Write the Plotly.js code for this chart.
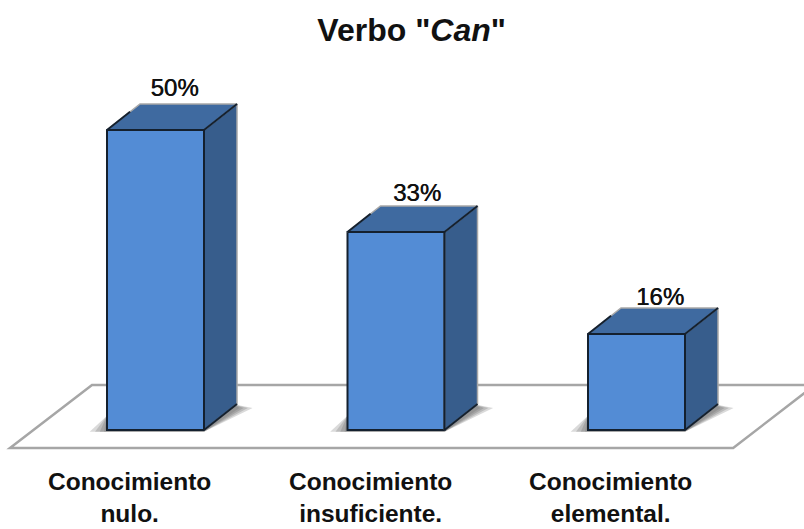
<!DOCTYPE html>
<html>
<head>
<meta charset="utf-8">
<script src="https://cdn.plot.ly/plotly-3.0.1.min.js"></script>
<style>html,body{margin:0;padding:0;background:#fff}</style>
</head>
<body>
<div id="chart" style="width:804px;height:529px"></div>
<script>
const categories = ['Conocimiento<br>nulo.', 'Conocimiento<br>insuficiente.', 'Conocimiento<br>elemental.'];
const values = [50, 33, 16];
const positions = [0, 1, 2];
const pxPerX = 240.5, pxPerY = 6;
const halfW = 48.5 / pxPerX;
const depthX = 33 / pxPerX, depthY = 26 / pxPerY;
const labelShiftPx = [19, 21, 23.5];
const labelRisePx = [18, 15, 13];
const FONT = '"Liberation Sans", Arial, sans-serif';

const sideX = [], sideY = [], topX = [], topY = [], edgeX = [], edgeY = [];
positions.forEach((p, i) => {
  const l = p - halfW, r = p + halfW, v = values[i];
  sideX.push(r, r + depthX, r + depthX, r, r, null);
  sideY.push(0, depthY, v + depthY, v, 0, null);
  topX.push(l, l + depthX, r + depthX, r, l, null);
  topY.push(v, v + depthY, v + depthY, v, v, null);
  edgeX.push(l, r, r, null, r, r + depthX, null, l, l + depthX * 0.7, null, r, r + depthX, null);
  edgeY.push(v, v, 0, null, v, v + depthY, null, v, v + depthY * 0.7, null, 0, depthY, null);
});

const shapes = [];
shapes.push({type: 'path', layer: 'below', xref: 'x', yref: 'y', path: 'M -0.605 -3 L -0.264 7.5 L 2.742 7.5 L 2.402 -3 Z',
  fillcolor: '#ffffff', line: {color: '#a6a6a6', width: 2.5}});
positions.forEach((p) => {
  const l = p - halfW, r = p + halfW;
  [[0.072, 0.2], [0.05, 0.2], [0.03, 0.2], [0.012, 0.16]].forEach(([grow, op]) => {
    shapes.push({type: 'path', layer: 'below', xref: 'x', yref: 'y',
      path: `M ${l - grow} -0.3 L ${r} -0.3 L ${r + depthX + grow * 0.9} ${depthY * 0.85} L ${r + depthX - 0.02} ${depthY} L ${l} ${depthY * 0.55} Z`,
      fillcolor: '#444444', opacity: op, line: {width: 0}});
  });
});

const annotations = positions.map((p, i) => ({
  xref: 'x', yref: 'paper', x: p - 26 / pxPerX, y: (470 - 497) / 470,
  text: '<b>' + categories[i].replace('<br>', '</b><br><b>') + '</b>',
  showarrow: false, xanchor: 'center', yanchor: 'middle',
  font: {family: FONT, size: 24.5, color: '#111111'}
}));

const data = [
  {type: 'bar', x: positions, y: values, width: halfW * 2, marker: {color: '#538cd5', line: {color: '#14202e', width: 2}}, hoverinfo: 'skip'},
  {type: 'scatter', mode: 'lines', x: sideX, y: sideY, fill: 'toself', fillcolor: '#375d8c', line: {color: '#a8a8a8', width: 1.5}, hoverinfo: 'skip'},
  {type: 'scatter', mode: 'lines', x: topX, y: topY, fill: 'toself', fillcolor: '#3f6aa0', line: {color: '#a8a8a8', width: 1.5}, hoverinfo: 'skip'},
  {type: 'scatter', mode: 'lines', x: edgeX, y: edgeY, line: {color: '#14202e', width: 2}, hoverinfo: 'skip'},
  {type: 'scatter', mode: 'text', x: positions.map((p, i) => p + labelShiftPx[i] / pxPerX),
    y: values.map((v, i) => v + depthY + (labelRisePx[i] - 18) / pxPerY + 0.3),
    text: values.map(v => v + '%'), textposition: 'top center',
    textfont: {family: FONT, size: 24, color: '#111111', shadow: '0.5px 0 0 #111111'}, hoverinfo: 'skip'}
];

const layout = {
  width: 804, height: 529, showlegend: false, paper_bgcolor: '#fff', plot_bgcolor: '#fff',
  margin: {l: 0, r: 0, t: 0, b: 59},
  title: {text: '<b>Verbo "<i>Can</i>"</b>', font: {family: FONT, size: 32, color: '#111111'}, x: 0.512, xanchor: 'center', y: 0.943, yanchor: 'middle'},
  xaxis: {range: [-155.5 / pxPerX, (804 - 155.5) / pxPerX], tickmode: 'array', tickvals: positions, showticklabels: false,
    showgrid: false, zeroline: false, showline: false, ticks: ''},
  yaxis: {range: [-40 / pxPerY, 430 / pxPerY], showgrid: false, zeroline: false, showline: false, showticklabels: false, ticks: ''},
  shapes: shapes, annotations: annotations, bargap: 0
};
Plotly.newPlot('chart', data, layout, {displayModeBar: false, staticPlot: true});
</script>
</body>
</html>
